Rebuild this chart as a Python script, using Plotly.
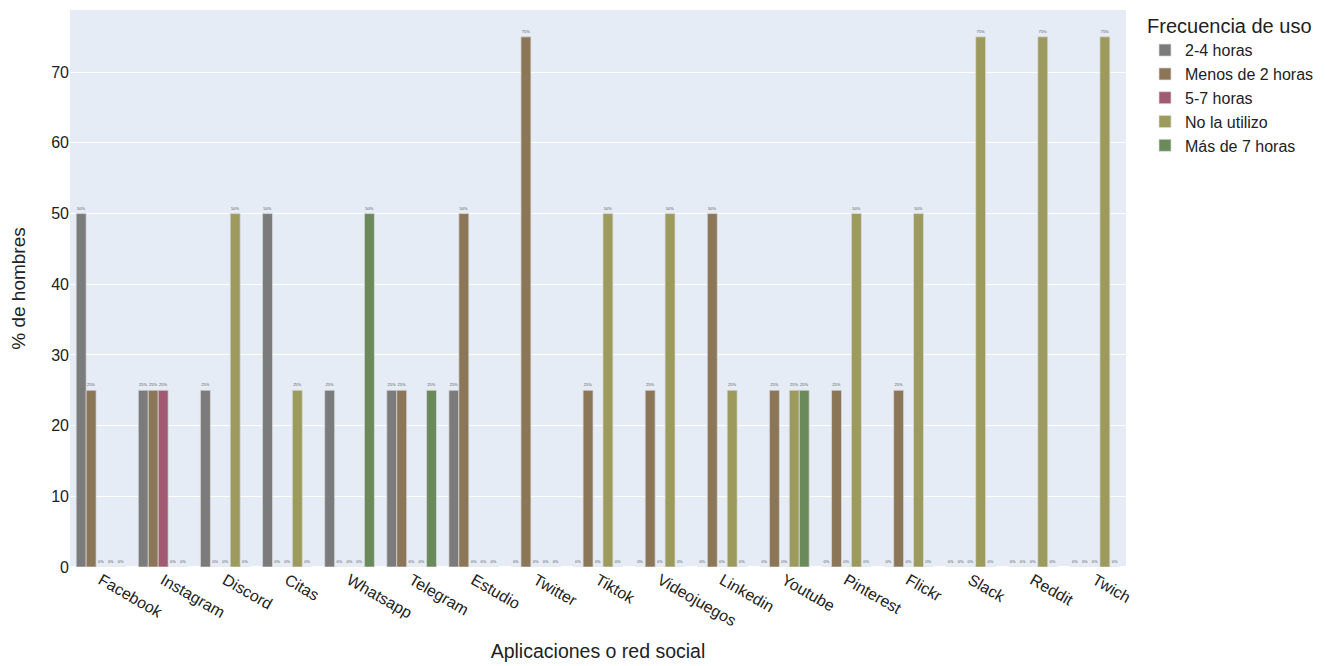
import plotly.graph_objects as go

categories = ["Facebook", "Instagram", "Discord", "Citas", "Whatsapp", "Telegram", "Estudio",
              "Twitter", "Tiktok", "Videojuegos", "Linkedin", "Youtube", "Pinterest", "Flickr",
              "Slack", "Reddit", "Twich"]

series_names = ["2-4 horas", "Menos de 2 horas", "5-7 horas", "No la utilizo", "Más de 7 horas"]

horas_2_4 =      [50, 25, 25, 50, 25, 25, 25, 0, 0, 0, 0, 0, 0, 0, 0, 0, 0]
menos_2_horas =  [25, 25, 0, 0, 0, 25, 50, 75, 25, 25, 50, 25, 25, 25, 0, 0, 0]
horas_5_7 =      [0, 25, 0, 0, 0, 0, 0, 0, 0, 0, 0, 0, 0, 0, 0, 0, 0]
no_la_utilizo =  [0, 0, 50, 25, 0, 0, 0, 0, 50, 50, 25, 25, 50, 50, 75, 75, 75]
mas_7_horas =    [0, 0, 0, 0, 50, 25, 0, 0, 0, 0, 0, 25, 0, 0, 0, 0, 0]

series_values = [horas_2_4, menos_2_horas, horas_5_7, no_la_utilizo, mas_7_horas]
colors = ["#7b7b7b", "#8c7658", "#a05a72", "#9c9a5c", "#6a8a5c"]

fig = go.Figure()
for name, vals, col in zip(series_names, series_values, colors):
    fig.add_trace(go.Bar(
        x=categories, y=vals, name=name,
        marker=dict(color=col, line=dict(color="rgba(220,220,220,0.7)", width=1)),
        text=[f"{v}%" for v in vals], textposition="outside",
        textfont=dict(size=4, color="#555"), cliponaxis=False,
    ))

fig.update_layout(
    width=1317, height=658,
    barmode="group",
    template="plotly",
    font=dict(family="Arial", color="#222", size=16),
    margin=dict(l=62, r=199, t=2, b=99, autoexpand=False),
    plot_bgcolor="#E5ECF6",
    legend=dict(title=dict(text="Frecuencia de uso", font=dict(size=20)), font=dict(size=16),
                x=1.018, y=1.005, yanchor="top"),
    xaxis=dict(title=dict(text="Aplicaciones o red social", font=dict(size=19.5)),
               tickangle=30, tickfont=dict(size=16), automargin=False),
    yaxis=dict(title=dict(text="% de hombres", font=dict(size=19), standoff=24), range=[0, 78.8],
               tickfont=dict(size=16), dtick=10),
)

fig.write_html("out.html")
